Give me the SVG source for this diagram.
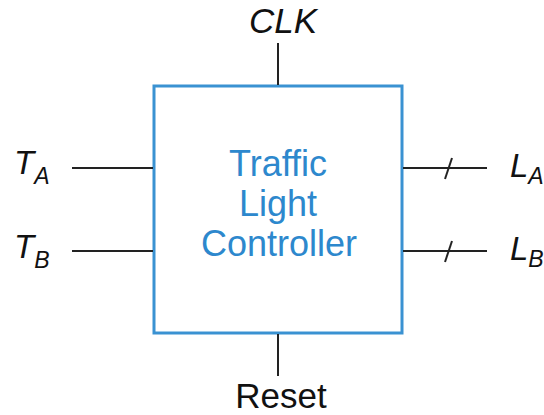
<svg xmlns="http://www.w3.org/2000/svg" width="544" height="415" viewBox="0 0 544 415">
<style>
.lbl{font-family:"Liberation Sans",Arial,sans-serif;fill:#111;}
.it{font-style:italic;}
.wire{stroke:#222;stroke-width:2;fill:none;}
.ctl{font-family:"Liberation Sans",Arial,sans-serif;fill:#2d88cd;font-size:36px;text-anchor:middle;}
</style>
<rect width="544" height="415" fill="#fff"/>
<g id="controller">
<rect x="154" y="86" width="248" height="247" fill="#fff" stroke="#3a92d2" stroke-width="3"/>
<text class="ctl" x="278" y="176">Traffic</text>
<text class="ctl" x="278" y="216">Light</text>
<text class="ctl" x="279" y="256">Controller</text>
</g>
<g id="connectors">
<line class="wire" x1="278" y1="43" x2="278" y2="85"/>
<line class="wire" x1="278" y1="334" x2="278" y2="376"/>
<line class="wire" x1="72" y1="168" x2="153" y2="168"/>
<line class="wire" x1="72" y1="251" x2="153" y2="251"/>
<line class="wire" x1="403" y1="168" x2="487" y2="168"/>
<line class="wire" x1="403" y1="251" x2="487" y2="251"/>
<line class="wire" x1="445" y1="179" x2="452" y2="158"/>
<line class="wire" x1="445" y1="262" x2="452" y2="241"/>
</g>
<g id="clk"><text class="lbl it" x="283" y="33" font-size="35" text-anchor="middle">CLK</text></g>
<g id="reset"><text class="lbl" x="281" y="408" font-size="35" text-anchor="middle">Reset</text></g>
<g id="ta"><text class="lbl it" x="14" y="174" font-size="33">T<tspan font-size="23" dy="10">A</tspan></text></g>
<g id="tb"><text class="lbl it" x="14" y="258" font-size="33">T<tspan font-size="23" dy="10">B</tspan></text></g>
<g id="la"><text class="lbl it" x="510" y="177" font-size="33">L<tspan font-size="23" dy="7">A</tspan></text></g>
<g id="lb"><text class="lbl it" x="510" y="260" font-size="33">L<tspan font-size="23" dy="7">B</tspan></text></g>
</svg>
